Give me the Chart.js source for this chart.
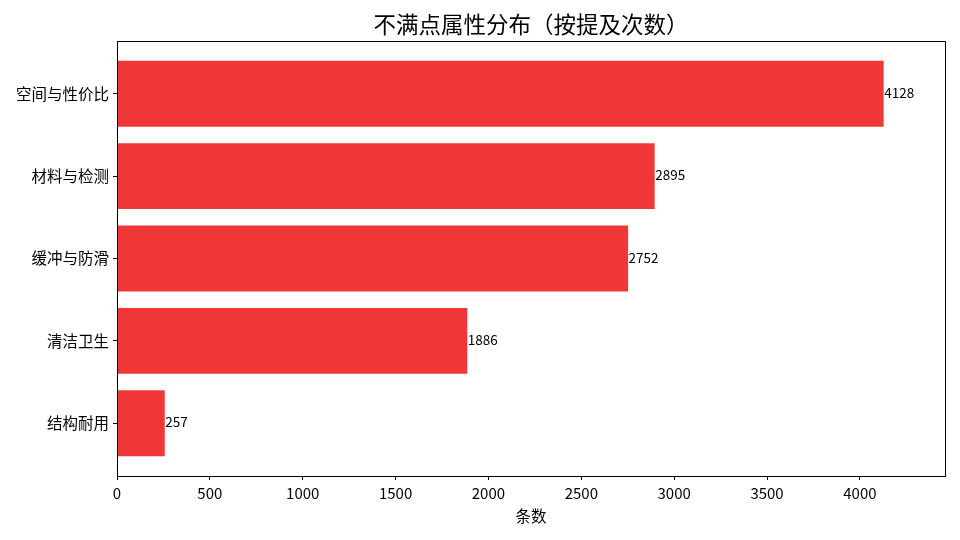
<!DOCTYPE html>
<html>
<head>
<meta charset="utf-8">
<script src="https://cdn.jsdelivr.net/npm/chart.js@4/dist/chart.umd.min.js"></script>
<style>
  html, body { margin: 0; padding: 0; background: #fff; }
  #wrap { width: 960px; height: 540px; }
</style>
</head>
<body>
<div id="wrap"><canvas id="chart" width="960" height="540"></canvas></div>
<script>
// --- data
const categories = ["空间与性价比", "材料与检测", "缓冲与防滑", "清洁卫生", "结构耐用"];
const counts = [4128, 2895, 2752, 1886, 257];
const xTicks = [0, 500, 1000, 1500, 2000, 2500, 3000, 3500, 4000];

const FONT = "'Noto Sans CJK SC', 'Noto Sans', sans-serif";
const BAR_COLOR = "#ef3737";

// value labels at the end of each bar
const valueLabels = {
  id: "valueLabels",
  afterDatasetsDraw(chart) {
    const ctx = chart.ctx;
    const meta = chart.getDatasetMeta(0);
    ctx.save();
    ctx.font = "13.5px " + FONT;
    ctx.fillStyle = "#000";
    ctx.textAlign = "left";
    ctx.textBaseline = "middle";
    meta.data.forEach((bar, i) => {
      ctx.fillText(String(counts[i]), bar.x + 0.5, bar.y - 1);
    });
    ctx.restore();
  }
};

// matplotlib-like box around the plot area (axis borders off, this draws all four sides)
const frame = {
  id: "frame",
  afterDraw(chart) {
    const { left, top, right, bottom } = chart.chartArea;
    const ctx = chart.ctx;
    ctx.save();
    ctx.strokeStyle = "#000";
    ctx.lineWidth = 1;
    ctx.strokeRect(Math.round(left) + 0.5, Math.round(top) + 0.5, Math.round(right - left), Math.round(bottom - top));
    ctx.restore();
  }
};

new Chart(document.getElementById("chart").getContext("2d"), {
  type: "bar",
  data: {
    datasets: [{
      data: counts.map((v, i) => ({ x: v, y: i })),
      backgroundColor: BAR_COLOR,
      borderWidth: 0,
      categoryPercentage: 1,
      barPercentage: 0.8
    }]
  },
  options: {
    indexAxis: "y",
    responsive: false,
    animation: false,
    layout: { padding: { left: 0, right: 15, top: 0, bottom: 0 } },
    plugins: {
      legend: { display: false },
      tooltip: { enabled: false },
      title: {
        display: true,
        fullSize: false,
        text: "不满点属性分布（按提及次数）",
        color: "#000",
        font: { family: FONT, size: 22.5, weight: "normal" },
        padding: { top: 11, bottom: 3 }
      }
    },
    scales: {
      x: {
        type: "linear",
        min: 0,
        max: 4128 * 1.08,
        afterBuildTicks: s => { s.ticks = xTicks.map(v => ({ value: v })); },
        afterFit: s => { s.height = 64; },
        grid: { drawOnChartArea: false, drawTicks: true, tickLength: 4, color: "#000" },
        border: { display: false },
        ticks: { color: "#000", padding: 4, font: { family: FONT, size: 15 }, maxRotation: 0, callback: v => String(v) },
        title: {
          display: true,
          text: "条数",
          color: "#000",
          font: { family: FONT, size: 15.5 },
          padding: { top: 0, bottom: 15 }
        }
      },
      y: {
        type: "linear",
        reverse: true,
        offset: false,
        min: -0.64,
        max: 4.64,
        afterBuildTicks: s => { s.ticks = categories.map((c, i) => ({ value: i })); },
        afterFit: s => { s.width = 117; },
        grid: { offset: false, drawOnChartArea: false, drawTicks: true, tickLength: 4, color: "#000" },
        border: { display: false },
        ticks: {
          color: "#000",
          padding: 4,
          font: { family: FONT, size: 15.5 },
          callback: v => categories[v]
        }
      }
    }
  },
  plugins: [valueLabels, frame]
});
</script>
</body>
</html>
